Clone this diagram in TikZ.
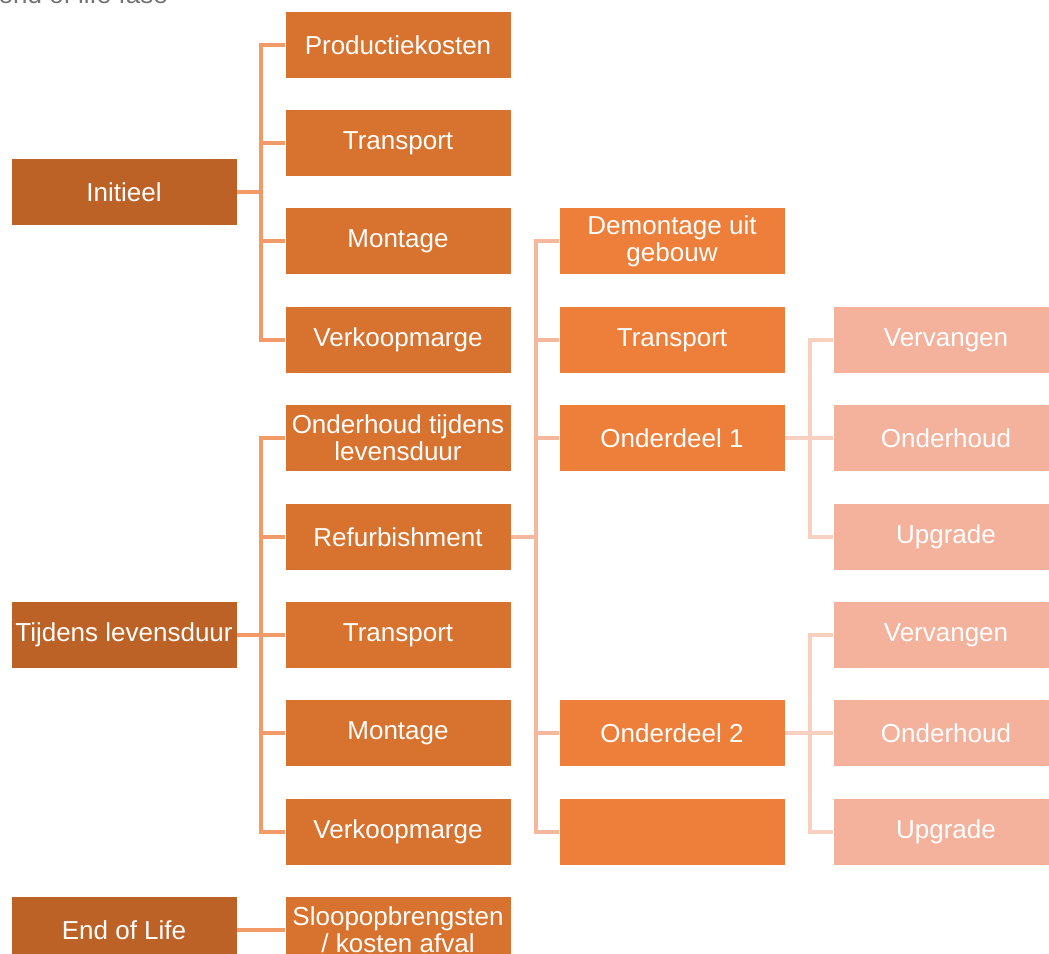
\documentclass[tikz,border=0pt]{standalone}
\usepackage{fontspec}
\setmainfont{Liberation Sans}
\definecolor{czero}{HTML}{BD6226}
\definecolor{cone}{HTML}{D8722F}
\definecolor{ctwo}{HTML}{ED7F3A}
\definecolor{cthree}{HTML}{F4B29C}
\definecolor{lone}{HTML}{F29A68}
\definecolor{ltwo}{HTML}{F5B89C}
\definecolor{lthree}{HTML}{F8D0C0}
\begin{document}
\begin{tikzpicture}[x=0.75pt,y=-0.75pt,
  box/.style={draw=white,line width=0.6pt,minimum width=169.5pt,minimum height=50pt,inner sep=0pt,
    text=white,align=center,font=\fontsize{19.5pt}{20.3pt}\selectfont},
  bzero/.style={box,fill=czero},
  bone/.style={box,fill=cone},
  btwo/.style={box,fill=ctwo},
  bthree/.style={box,fill=cthree},
  lnone/.style={draw=lone,line width=2.3pt},
  lntwo/.style={draw=ltwo,line width=2.3pt},
  lnthree/.style={draw=lthree,line width=2.3pt}]
\useasboundingbox (0,0) rectangle (1049,953);
\begin{scope}
\clip (0,0) rectangle (1049,953);
\node[anchor=base west,text=gray!90!black,font=\fontsize{19.5pt}{20pt}\selectfont] (title) at (-6,3) {end of life fase};
% level 0
\node[bzero] (ini) at (124,192) {Initieel};
\node[bzero] (tij) at (124,635) {Tijdens levensduur};
\node[bzero] (eol) at (124,930) {End of Life};
% level 1
\node[bone] (p1) at (398,45) {Productiekosten};
\node[bone] (p2) at (398,143) {Transport};
\node[bone] (p3) at (398,241) {Montage};
\node[bone] (p4) at (398,340) {Verkoopmarge};
\node[bone] (t1) at (398,438) {Onderhoud tijdens\\levensduur};
\node[bone] (t2) at (398,537) {Refurbishment};
\node[bone] (t3) at (398,635) {Transport};
\node[bone] (t4) at (398,733) {Montage};
\node[bone] (t5) at (398,832) {Verkoopmarge};
\node[bone] (e1) at (398,930) {Sloopopbrengsten\\/ kosten afval};
% level 2
\node[btwo] (r1) at (672,241) {Demontage uit\\gebouw};
\node[btwo] (r2) at (672,340) {Transport};
\node[btwo] (r3) at (672,438) {Onderdeel 1};
\node[btwo] (r4) at (672,733) {Onderdeel 2};
\node[btwo] (r5) at (672,832) {};
% level 3
\node[bthree] (a1) at (946,340) {Vervangen};
\node[bthree] (a2) at (946,438) {Onderhoud};
\node[bthree] (a3) at (946,537) {Upgrade};
\node[bthree] (b1) at (946,635) {Vervangen};
\node[bthree] (b2) at (946,733) {Onderhoud};
\node[bthree] (b3) at (946,832) {Upgrade};
% connectors level 1
\draw[lnone] (ini.east) -- (261,192);
\foreach \n in {p1,p2,p3,p4} \draw[lnone] (261,192) |- (\n.west);
\draw[lnone] (tij.east) -- (261,635);
\foreach \n in {t1,t2,t3,t4,t5} \draw[lnone] (261,635) |- (\n.west);
\draw[lnone] (eol.east) -- (e1.west);
% connectors level 2
\draw[lntwo] (t2.east) -- (536,537);
\foreach \n in {r1,r2,r3,r4,r5} \draw[lntwo] (536,537) |- (\n.west);
% connectors level 3
\draw[lnthree] (r3.east) -- (810,438);
\foreach \n in {a1,a2,a3} \draw[lnthree] (810,438) |- (\n.west);
\draw[lnthree] (r4.east) -- (810,733);
\foreach \n in {b1,b2,b3} \draw[lnthree] (810,733) |- (\n.west);
\end{scope}
\end{tikzpicture}
\end{document}
